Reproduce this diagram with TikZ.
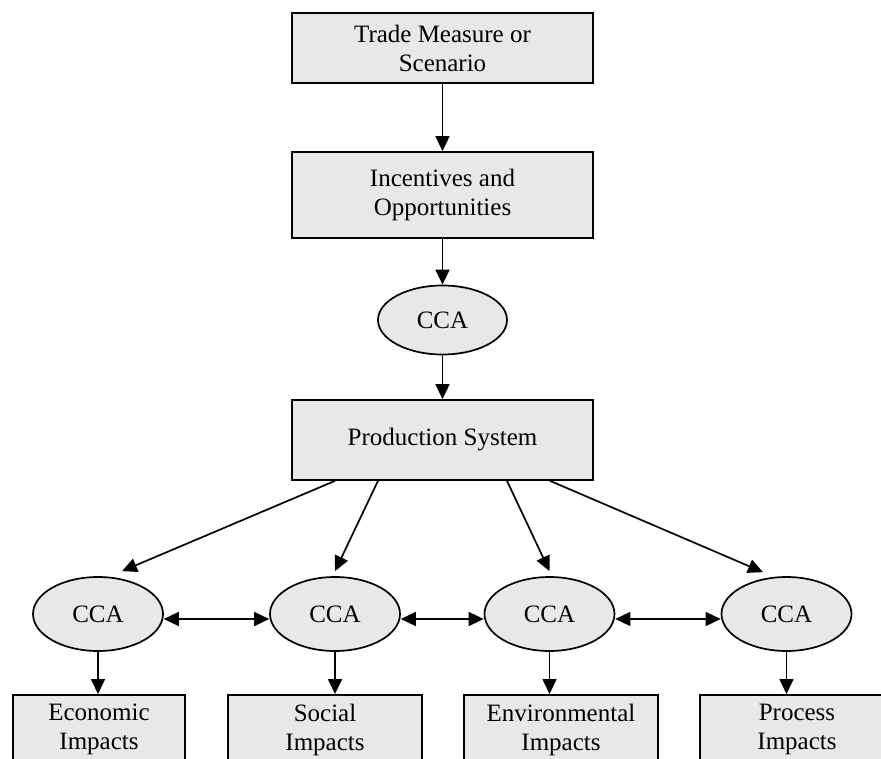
\documentclass[tikz,border=0pt]{standalone}
\usepackage{fontspec}
\setmainfont{Liberation Serif}
\usetikzlibrary{shapes.geometric,arrows.meta}
\begin{document}
\begin{tikzpicture}[x=1pt,y=-1pt,
  every node/.style={font=\fontsize{25}{29}\selectfont, align=center},
  box/.style={draw, line width=1.7pt, fill=gray!18, rectangle, inner sep=0pt},
  oval/.style={draw, line width=1.7pt, fill=gray!18, ellipse, inner sep=0pt},
  impact/.style={draw, line width=1.7pt, fill=gray!18, rectangle, anchor=north, inner xsep=0pt, inner ysep=9.5pt},
  arr/.style={line width=1.7pt, -{Triangle[length=15pt,width=14pt]}},
  darr/.style={line width=1.7pt, {Triangle[length=15pt,width=14pt]}-{Triangle[length=15pt,width=14pt]}}]
\useasboundingbox (0,0) rectangle (881,759);
\clip (0,0) rectangle (881,759);
\node[box, minimum width=301pt, minimum height=70pt] (trade) at (442.5,48) {Trade Measure or\\Scenario};
\node[box, minimum width=301pt, minimum height=86pt] (inc) at (442.5,195) {Incentives and\\Opportunities};
\node[oval, minimum width=129pt, minimum height=69pt] (cca) at (442.5,320) {CCA};
\node[box, minimum width=301pt, minimum height=80pt] (prod) at (442.5,440) {Production System};
\node[oval, minimum width=130pt, minimum height=74pt] (e1) at (98,614) {CCA};
\node[oval, minimum width=130pt, minimum height=74pt] (e2) at (335,614) {CCA};
\node[oval, minimum width=130pt, minimum height=74pt] (e3) at (549.5,614) {CCA};
\node[oval, minimum width=130pt, minimum height=74pt] (e4) at (786.5,614) {CCA};
\node[impact, minimum width=172pt] (b1) at (99,694) {Economic\\Impacts};
\node[impact, minimum width=194pt] (b2) at (325,694) {Social\\Impacts};
\node[impact, minimum width=194pt] (b3) at (561,694) {Environmental\\Impacts};
\node[impact, minimum width=194pt, text width=174pt] (b4) at (797,694) {Process\\Impacts};
\draw[arr] (trade) -- (inc);
\draw[arr] (inc) -- (cca);
\draw[arr] (cca) -- (prod);
\draw[arr] ([xshift=-107.5pt]prod.south) -- ([xshift=24pt,yshift=5pt]e1.north);
\draw[arr] ([xshift=-64.5pt]prod.south) -- ([yshift=5pt]e2.north);
\draw[arr] ([xshift=64.5pt]prod.south) -- ([yshift=5pt]e3.north);
\draw[arr] ([xshift=107.5pt]prod.south) -- ([xshift=-23.5pt,yshift=4pt]e4.north);
\draw[darr] ([yshift=-5pt]e1.east) -- ([yshift=-5pt]e2.west);
\draw[darr] ([yshift=-5pt]e2.east) -- ([yshift=-5pt]e3.west);
\draw[darr] ([yshift=-5pt]e3.east) -- ([yshift=-5pt]e4.west);
\draw[arr] (e1.south) -- (e1.south |- b1.north);
\draw[arr] (e2.south) -- (e2.south |- b2.north);
\draw[arr] (e3.south) -- (e3.south |- b3.north);
\draw[arr] (e4.south) -- (e4.south |- b4.north);
\end{tikzpicture}
\end{document}
